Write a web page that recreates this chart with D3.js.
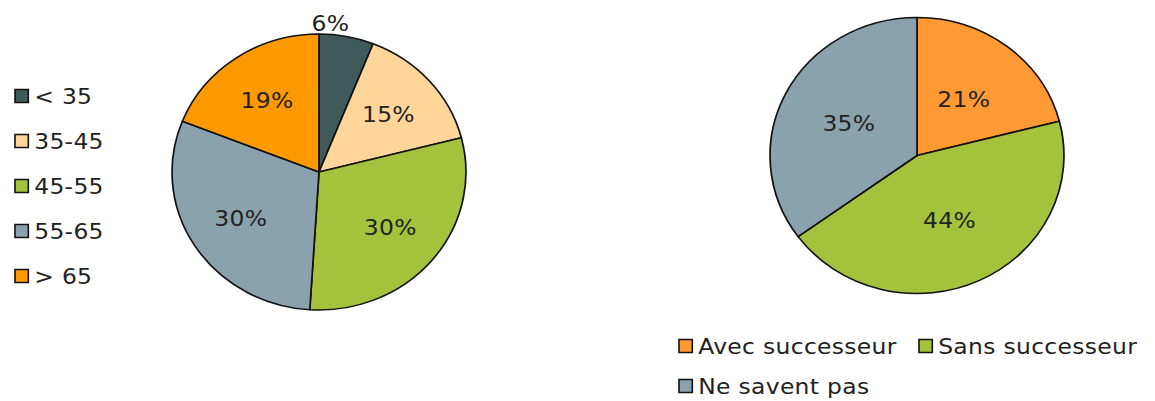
<!DOCTYPE html>
<html>
<head>
<meta charset="utf-8">
<script src="https://cdn.jsdelivr.net/npm/d3@7"></script>
<style>
  body { margin: 0; background: #fff; }
  text { font-family: "DejaVu Sans", Verdana, sans-serif; fill: #222; letter-spacing: 0.3px; }
</style>
</head>
<body>
<svg id="chart" width="1155" height="401"></svg>
<script>
// left pie: age groups
const ageLabels = ['< 35', '35-45', '45-55', '55-65', '> 65'];
const ageValues = [6, 15, 30, 30, 19];
const ageColors = ['#3f5a5a', '#ffd59a', '#a5c23c', '#8aa2ae', '#ff9900'];

// right pie: succession
const succLabels = ['Avec successeur', 'Sans successeur', 'Ne savent pas'];
const succValues = [21, 44, 35];
const succColors = ['#ff9933', '#a5c23c', '#8aa2ae'];

const sx = 1.065; // picture is slightly stretched horizontally
const svg = d3.select('#chart');
const root = svg.append('g').attr('transform', `scale(${sx},1)`);

const r = 138;
const pie = d3.pie().sort(null).value(d => d);
const arc = d3.arc().innerRadius(0).outerRadius(r);

function drawPie(cx, cy, values, colors, labelR) {
    const g = root.append('g').attr('transform', `translate(${cx / sx},${cy})`);
    const arcs = pie(values);
    g.selectAll('path')
        .data(arcs)
        .enter()
        .append('path')
        .attr('d', arc)
        .attr('fill', (d, i) => colors[i])
        .attr('stroke', '#111')
        .attr('stroke-width', 1.6)
        .attr('stroke-linejoin', 'round');

    g.selectAll('text')
        .data(arcs)
        .enter()
        .append('text')
        .each(function(d) {
            const a = (d.startAngle + d.endAngle) / 2;
            const small = d.endAngle - d.startAngle < 0.5;
            const rr = small ? r * 1.1 : r * labelR;
            d3.select(this)
                .attr('x', Math.sin(a) * rr)
                .attr('y', -Math.cos(a) * rr)
                .attr('text-anchor', small ? 'end' : 'middle');
        })
        .attr('dy', '0.36em')
        .attr('font-size', 22)
        .text(d => d.data + '%');
}

drawPie(319, 172, ageValues, ageColors, 0.63);
drawPie(917, 155.5, succValues, succColors, 0.52);

// legends
function legendItem(x, y, label, color) {
    const g = root.append('g').attr('transform', `translate(${x / sx},${y})`);
    g.append('rect')
        .attr('x', 0).attr('y', -6.5)
        .attr('width', 12.5).attr('height', 13)
        .attr('fill', color)
        .attr('stroke', '#111')
        .attr('stroke-width', 1.5);
    g.append('text')
        .attr('x', 18)
        .attr('y', 0)
        .attr('dy', '0.36em')
        .attr('font-size', 22)
        .text(label);
}

ageLabels.forEach((l, i) => legendItem(15, 96 + i * 45, l, ageColors[i]));

const succPos = [[679, 346], [919, 346], [679, 386]];
succLabels.forEach((l, i) => legendItem(succPos[i][0], succPos[i][1], l, succColors[i]));
</script>
</body>
</html>
